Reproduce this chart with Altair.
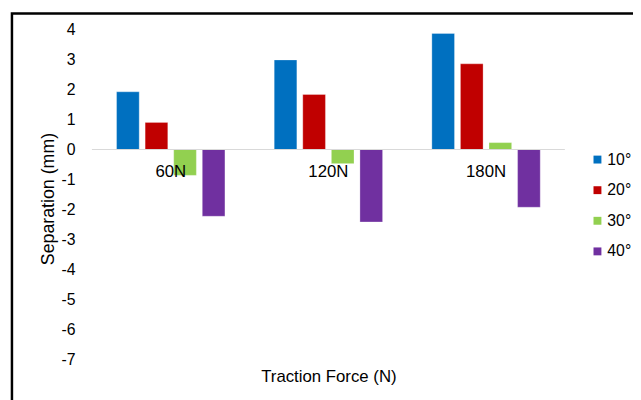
import altair as alt
import pandas as pd

forces = ["60N", "120N", "180N"]
angles = ["10°", "20°", "30°", "40°"]
colors = ["#0070C0", "#C00000", "#92D050", "#7030A0"]
sep_10 = [1.92, 2.98, 3.86]
sep_20 = [0.90, 1.83, 2.85]
sep_30 = [-0.86, -0.47, 0.23]
sep_40 = [-2.22, -2.41, -1.92]
y_ticks = [-7, -6, -5, -4, -3, -2, -1, 0, 1, 2, 3, 4]

rows = []
for a, vals in zip(angles, [sep_10, sep_20, sep_30, sep_40]):
    for f, v in zip(forces, vals):
        rows.append({"force": f, "angle": a, "sep": v})
df = pd.DataFrame(rows)
cat_df = pd.DataFrame({"force": forces, "sep": [0] * len(forces)})
zero_df = pd.DataFrame({"sep": [0]})

W, H = 479, 335
FONT = "Liberation Sans"

x_axis = alt.Axis(labels=False, ticks=False, domain=False, grid=False,
                  titleFont=FONT, titleFontSize=17, titleFontWeight="normal",
                  titleColor="black", titleY=17, titleBaseline="middle")
x_scale = alt.Scale(paddingInner=0, paddingOuter=0)
y_scale = alt.Scale(domain=[-7, 4], nice=False)
y_axis = alt.Axis(values=y_ticks, grid=False, ticks=False, domain=False,
                  labelOverlap=False, labelExpr="'' + datum.value",
                  labelFont=FONT, labelFontSize=16, labelColor="black",
                  labelPadding=17,
                  titleFont=FONT, titleFontSize=18, titleFontWeight="normal",
                  titleColor="black", titleX=-44, titleY=H / 2 + 4,
                  titleBaseline="middle")

def xe():
    return alt.X("force:N", sort=forces, title="Traction Force (N)", scale=x_scale, axis=x_axis)

def ye():
    return alt.Y("sep:Q", scale=y_scale, title="Separation (mm)", axis=y_axis)

bars = alt.Chart(df).mark_bar(stroke="white", strokeOpacity=0.5, strokeWidth=0.6).encode(
    x=xe(),
    xOffset=alt.XOffset("angle:N", sort=angles,
                        scale=alt.Scale(paddingInner=0.207, paddingOuter=0.862)),
    y=ye(),
    color=alt.Color("angle:N", sort=angles,
                    scale=alt.Scale(domain=angles, range=colors),
                    legend=alt.Legend(title=None, orient="none", legendX=504, legendY=124,
                                      symbolType="square", symbolSize=64,
                                      symbolStrokeWidth=0, labelFont=FONT,
                                      labelFontSize=16, labelColor="black",
                                      labelOffset=2, rowPadding=15)),
)

zero_line = alt.Chart(zero_df).mark_rule(color="#d9d9d9", strokeWidth=1.2).encode(
    y=ye()
)

cat_labels = alt.Chart(cat_df).mark_text(
    font=FONT, fontSize=17, color="black", baseline="middle", dy=23
).encode(
    x=xe(),
    y=ye(),
    text="force:N",
)

frame = alt.Chart(zero_df).mark_rect(fill=None, stroke="black", strokeWidth=2.5).encode(
    x=alt.value(-81), x2=alt.value(W + 120), y=alt.value(-16), y2=alt.value(H + 120)
)

chart = alt.layer(bars, zero_line, cat_labels, frame).properties(
    width=W, height=H,
    background="white",
    autosize=alt.AutoSizeParams(type="none"),
    padding={"left": 85, "top": 19, "right": 69, "bottom": 38},
).configure_view(strokeWidth=0)

chart.save("out.html", embed_options={"renderer": "svg", "actions": False})
